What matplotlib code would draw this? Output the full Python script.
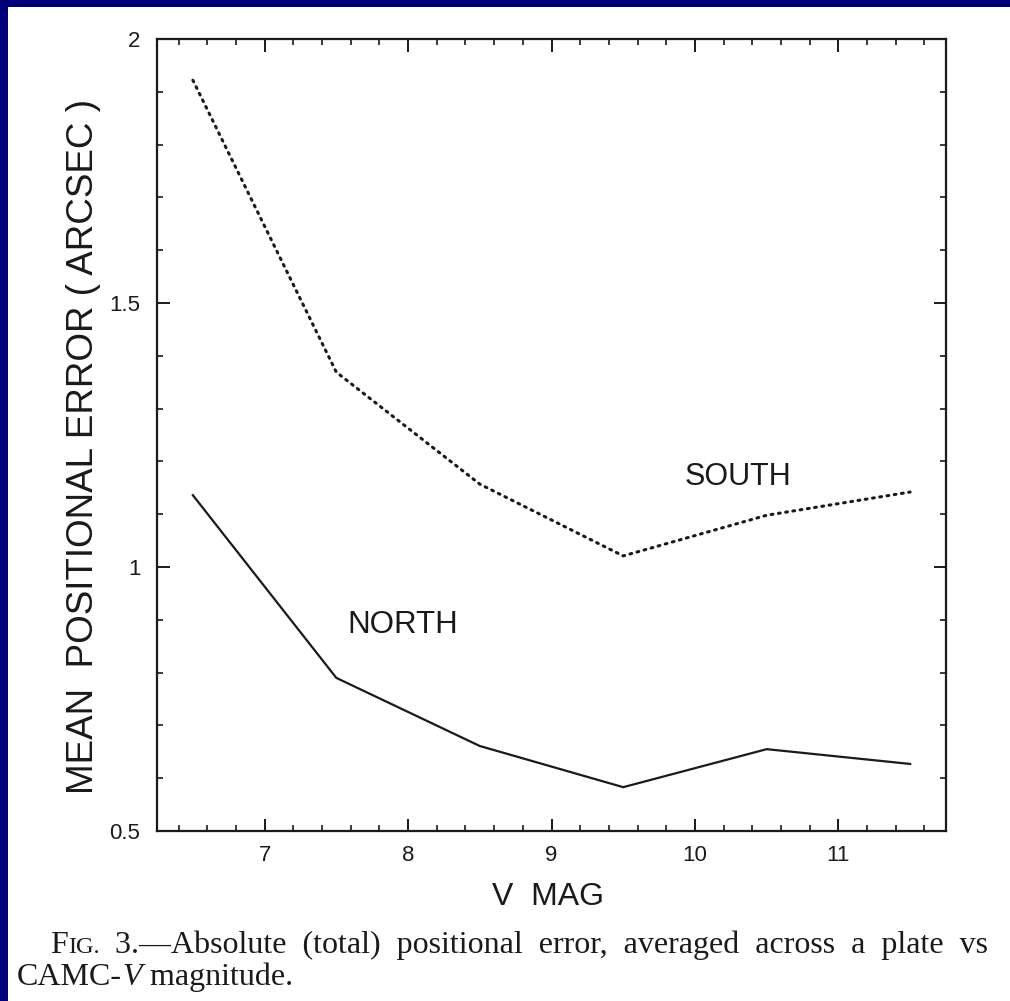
import matplotlib
matplotlib.use("Agg")
import matplotlib.pyplot as plt
from matplotlib.patches import Rectangle

# values
v_mag = [6.5, 7.5, 8.5, 9.5, 10.5, 11.5]
north = [1.136, 0.790, 0.661, 0.583, 0.655, 0.627]
south = [1.922, 1.369, 1.157, 1.021, 1.098, 1.142]
x_ticks = [7, 8, 9, 10, 11]
y_ticks = [0.5, 1, 1.5, 2]
y_tick_labels = ["0.5", "1", "1.5", "2"]

W, H = 1010, 1001
fig = plt.figure(figsize=(W / 100, H / 100), dpi=100)
fig.patch.set_facecolor("#00007a")

# white page inside the blue slide border
fig.patches.append(Rectangle((8 / W, 0), 1 - 8 / W, 1 - 7 / H,
                             transform=fig.transFigure, facecolor="white",
                             edgecolor="none", zorder=-10))

ax = fig.add_axes([157 / W, 1 - 831 / H, (946 - 157) / W, (831 - 39) / H])
ax.set_facecolor("white")

ax.plot(v_mag, north, color="#1a1a1a", lw=1.6, solid_joinstyle="miter")
ax.plot(v_mag, south, color="#1a1a1a", lw=2.2, linestyle=(0, (0.6, 1.8)),
        dash_capstyle="round")

ax.set_xlim(6.25, 11.75)
ax.set_ylim(0.5, 2)
ax.set_xticks(x_ticks)
ax.set_xticks([6.4 + 0.2 * i for i in range(27) if round((6.4 + 0.2 * i) % 1, 3) not in (0, 1)], minor=True)
ax.set_yticks(y_ticks)
ax.set_yticklabels(y_tick_labels)
ax.set_yticks([0.6 + 0.1 * i for i in range(14) if i % 5 != 4], minor=True)

for s in ax.spines.values():
    s.set_linewidth(1.6)
    s.set_color("#1a1a1a")

ax.tick_params(which="both", direction="in", top=True, right=True, colors="#1a1a1a")
ax.tick_params(which="major", length=9, width=1.4)
ax.tick_params(which="minor", length=4, width=1.2)
ax.tick_params(axis="x", which="major", pad=10, labelsize=16)
ax.tick_params(axis="y", which="major", pad=12, labelsize=16)
for lab in ax.get_xticklabels() + ax.get_yticklabels():
    lab.set_family("Liberation Sans")

fig.text(738 / W, 1 - 477 / H, "SOUTH", ha="center", va="center", fontsize=22,
         family="Liberation Sans", color="#1a1a1a")
fig.text(403 / W, 1 - 625 / H, "NORTH", ha="center", va="center", fontsize=22.5,
         family="Liberation Sans", color="#1a1a1a")

fig.text(84 / W, 1 - 447 / H, "MEAN  POSITIONAL ERROR ( ARCSEC )", rotation=90,
         ha="center", va="center", fontsize=26.5, family="Liberation Sans", color="#1a1a1a")
fig.text(548 / W, 1 - 897 / H, "V  MAG", ha="center", va="center",
         fontsize=23, family="Liberation Sans", color="#1a1a1a")

# caption, Times style with small caps FIG.
big, small = 23, 17.5
desc = 0.216  # font descent as a share of the size, to keep baselines lined up
cap = dict(family="Liberation Serif", color="#1a1a1a", annotation_clip=False,
           textcoords="offset points", va="baseline")
t1 = fig.text(50 / W, 1 - 953 / H, "F", fontsize=big, va="baseline",
              family="Liberation Serif", color="#1a1a1a")
t2 = ax.annotate("IG.", xy=(1, 0), xycoords=t1, xytext=(0, big * desc),
                 fontsize=small, **cap)
ax.annotate("  3.\u2014Absolute  (total)  positional  error,  averaged  across  a  plate  vs",
            xy=(1, 0), xycoords=t2, xytext=(0, small * desc), fontsize=big, **cap)

t4 = fig.text(17 / W, 1 - 985 / H, "CAMC-", fontsize=big, va="baseline",
              family="Liberation Serif", color="#1a1a1a")
t5 = ax.annotate("V", xy=(1, 0), xycoords=t4, xytext=(0, big * desc),
                 fontsize=big, style="italic", **cap)
ax.annotate(" magnitude.", xy=(1, 0), xycoords=t5, xytext=(0, big * desc),
            fontsize=big, **cap)

fig.savefig("out.png", dpi=100, facecolor=fig.get_facecolor())
